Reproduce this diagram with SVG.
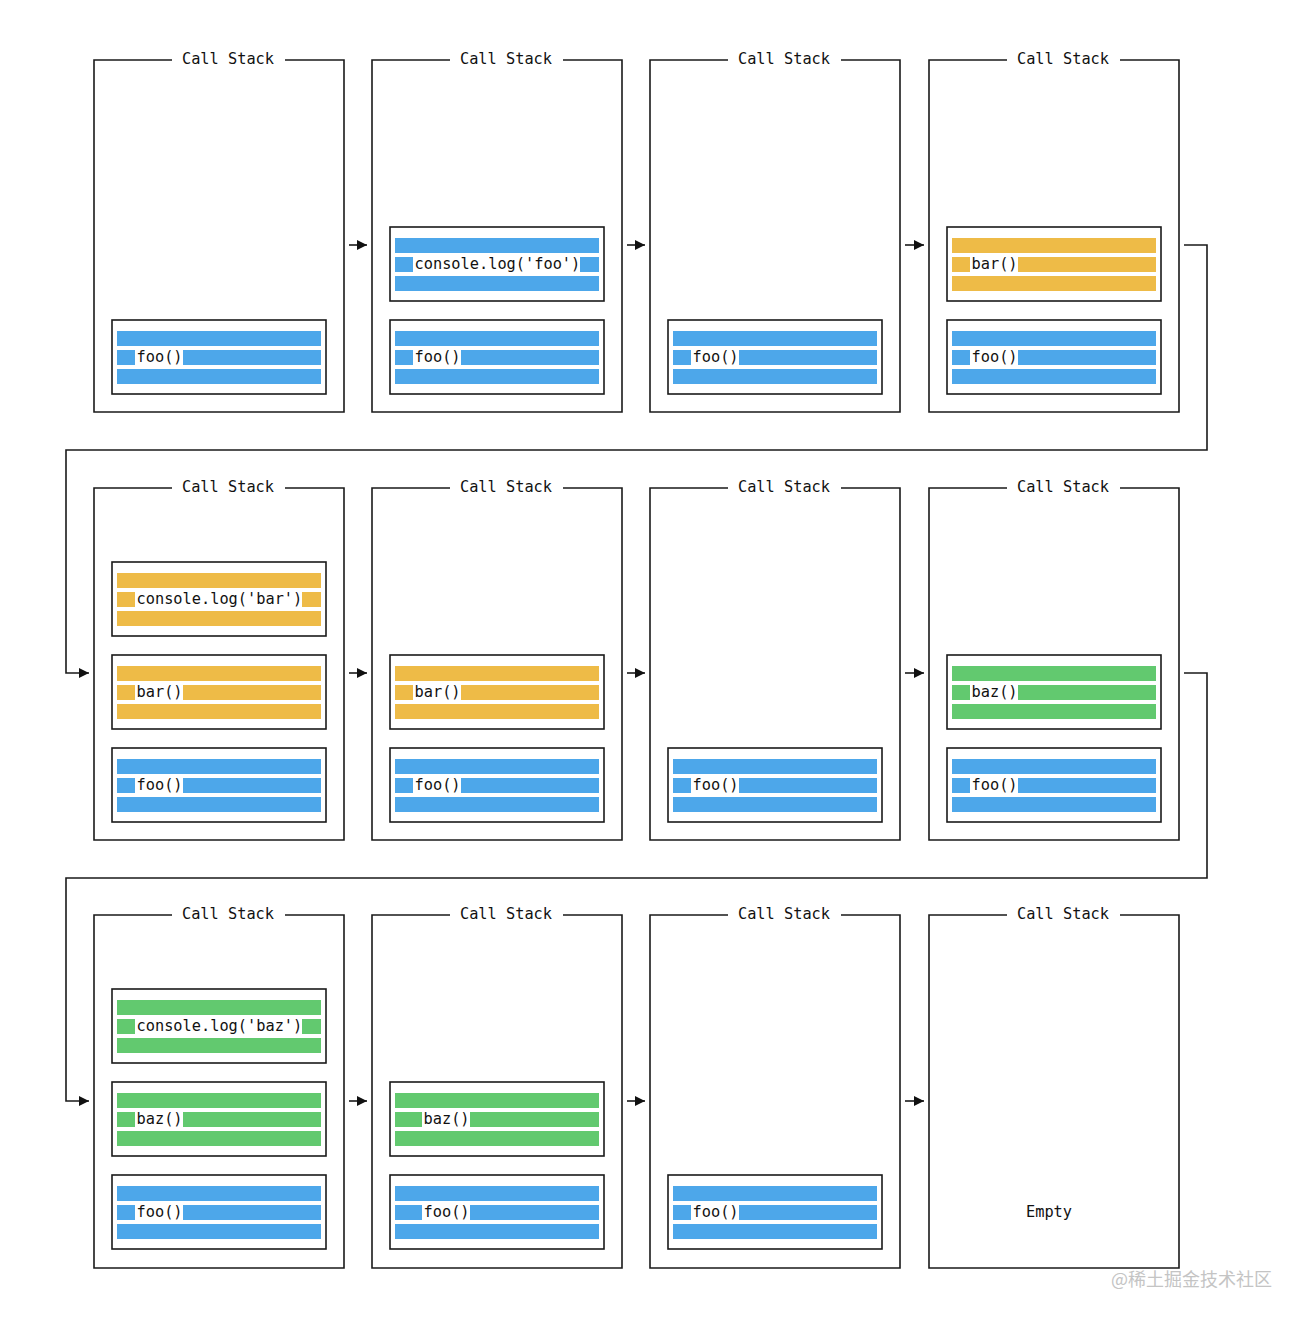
<svg xmlns="http://www.w3.org/2000/svg" width="1304" height="1322" viewBox="0 0 1304 1322">
<defs>
<style>
.pn{fill:none;stroke:#1a1a1a;stroke-width:1.6}
.fr{fill:#fff;stroke:#1a1a1a;stroke-width:1.6}
.b{fill:#4da7ea}
.y{fill:#eebb47}
.g{fill:#62c96f}
.w{fill:#fff}
.t{font-family:"DejaVu Sans Mono","Liberation Mono",monospace;font-size:15.3px;fill:#111}
.ttl{font-family:"DejaVu Sans Mono","Liberation Mono",monospace;font-size:15.3px;fill:#111;text-anchor:middle}
.cn{fill:none;stroke:#1a1a1a;stroke-width:1.6}
.wm{font-family:"Noto Sans CJK SC","Noto Sans",sans-serif;font-size:18px;fill:#c4c4c4}
</style>
<marker id="ah" markerWidth="12" markerHeight="12" refX="10" refY="6" orient="auto" markerUnits="userSpaceOnUse">
<path d="M0,1 L10,6 L0,11 Z" fill="#111"/>
</marker>
<g id="fb"><rect class="fr" width="214" height="74"/><rect class="b" x="5" y="11" width="204" height="15"/><rect class="b" x="5" y="30" width="204" height="15"/><rect class="b" x="5" y="49" width="204" height="15"/></g>
<g id="fy"><rect class="fr" width="214" height="74"/><rect class="y" x="5" y="11" width="204" height="15"/><rect class="y" x="5" y="30" width="204" height="15"/><rect class="y" x="5" y="49" width="204" height="15"/></g>
<g id="fg"><rect class="fr" width="214" height="74"/><rect class="g" x="5" y="11" width="204" height="15"/><rect class="g" x="5" y="30" width="204" height="15"/><rect class="g" x="5" y="49" width="204" height="15"/></g>
</defs>
<rect width="1304" height="1322" fill="#fff"/>

<!-- Row 1 -->
<g id="r1p1">
<path class="pn" d="M172,60 H94 V412 H344 V60 H285"/><text class="ttl" x="228" y="64">Call Stack</text>
<g transform="translate(112,320)"><use href="#fb"/><rect class="w" x="23" y="30" width="48" height="15"/><text class="t" x="24.5" y="41.5">foo()</text></g>
</g>
<g id="r1p2">
<path class="pn" d="M450,60 H372 V412 H622 V60 H563"/><text class="ttl" x="506" y="64">Call Stack</text>
<g transform="translate(390,227)"><use href="#fb"/><rect class="w" x="23" y="30" width="167" height="15"/><text class="t" x="24.5" y="41.5">console.log('foo')</text></g>
<g transform="translate(390,320)"><use href="#fb"/><rect class="w" x="23" y="30" width="48" height="15"/><text class="t" x="24.5" y="41.5">foo()</text></g>
</g>
<g id="r1p3">
<path class="pn" d="M728,60 H650 V412 H900 V60 H841"/><text class="ttl" x="784" y="64">Call Stack</text>
<g transform="translate(668,320)"><use href="#fb"/><rect class="w" x="23" y="30" width="48" height="15"/><text class="t" x="24.5" y="41.5">foo()</text></g>
</g>
<g id="r1p4">
<path class="pn" d="M1007,60 H929 V412 H1179 V60 H1120"/><text class="ttl" x="1063" y="64">Call Stack</text>
<g transform="translate(947,227)"><use href="#fy"/><rect class="w" x="23" y="30" width="48" height="15"/><text class="t" x="24.5" y="41.5">bar()</text></g>
<g transform="translate(947,320)"><use href="#fb"/><rect class="w" x="23" y="30" width="48" height="15"/><text class="t" x="24.5" y="41.5">foo()</text></g>
</g>

<!-- Row 2 -->
<g id="r2p1">
<path class="pn" d="M172,488 H94 V840 H344 V488 H285"/><text class="ttl" x="228" y="492">Call Stack</text>
<g transform="translate(112,562)"><use href="#fy"/><rect class="w" x="23" y="30" width="167" height="15"/><text class="t" x="24.5" y="41.5">console.log('bar')</text></g>
<g transform="translate(112,655)"><use href="#fy"/><rect class="w" x="23" y="30" width="48" height="15"/><text class="t" x="24.5" y="41.5">bar()</text></g>
<g transform="translate(112,748)"><use href="#fb"/><rect class="w" x="23" y="30" width="48" height="15"/><text class="t" x="24.5" y="41.5">foo()</text></g>
</g>
<g id="r2p2">
<path class="pn" d="M450,488 H372 V840 H622 V488 H563"/><text class="ttl" x="506" y="492">Call Stack</text>
<g transform="translate(390,655)"><use href="#fy"/><rect class="w" x="23" y="30" width="48" height="15"/><text class="t" x="24.5" y="41.5">bar()</text></g>
<g transform="translate(390,748)"><use href="#fb"/><rect class="w" x="23" y="30" width="48" height="15"/><text class="t" x="24.5" y="41.5">foo()</text></g>
</g>
<g id="r2p3">
<path class="pn" d="M728,488 H650 V840 H900 V488 H841"/><text class="ttl" x="784" y="492">Call Stack</text>
<g transform="translate(668,748)"><use href="#fb"/><rect class="w" x="23" y="30" width="48" height="15"/><text class="t" x="24.5" y="41.5">foo()</text></g>
</g>
<g id="r2p4">
<path class="pn" d="M1007,488 H929 V840 H1179 V488 H1120"/><text class="ttl" x="1063" y="492">Call Stack</text>
<g transform="translate(947,655)"><use href="#fg"/><rect class="w" x="23" y="30" width="48" height="15"/><text class="t" x="24.5" y="41.5">baz()</text></g>
<g transform="translate(947,748)"><use href="#fb"/><rect class="w" x="23" y="30" width="48" height="15"/><text class="t" x="24.5" y="41.5">foo()</text></g>
</g>

<!-- Row 3 -->
<g id="r3p1">
<path class="pn" d="M172,915 H94 V1268 H344 V915 H285"/><text class="ttl" x="228" y="919">Call Stack</text>
<g transform="translate(112,989)"><use href="#fg"/><rect class="w" x="23" y="30" width="167" height="15"/><text class="t" x="24.5" y="41.5">console.log('baz')</text></g>
<g transform="translate(112,1082)"><use href="#fg"/><rect class="w" x="23" y="30" width="48" height="15"/><text class="t" x="24.5" y="41.5">baz()</text></g>
<g transform="translate(112,1175)"><use href="#fb"/><rect class="w" x="23" y="30" width="48" height="15"/><text class="t" x="24.5" y="41.5">foo()</text></g>
</g>
<g id="r3p2">
<path class="pn" d="M450,915 H372 V1268 H622 V915 H563"/><text class="ttl" x="506" y="919">Call Stack</text>
<g transform="translate(390,1082)"><use href="#fg"/><rect class="w" x="32" y="30" width="48" height="15"/><text class="t" x="33.5" y="41.5">baz()</text></g>
<g transform="translate(390,1175)"><use href="#fb"/><rect class="w" x="32" y="30" width="48" height="15"/><text class="t" x="33.5" y="41.5">foo()</text></g>
</g>
<g id="r3p3">
<path class="pn" d="M728,915 H650 V1268 H900 V915 H841"/><text class="ttl" x="784" y="919">Call Stack</text>
<g transform="translate(668,1175)"><use href="#fb"/><rect class="w" x="23" y="30" width="48" height="15"/><text class="t" x="24.5" y="41.5">foo()</text></g>
</g>
<g id="r3p4">
<path class="pn" d="M1007,915 H929 V1268 H1179 V915 H1120"/><text class="ttl" x="1063" y="919">Call Stack</text>
<text class="ttl" x="1049" y="1217">Empty</text>
</g>

<g id="connectors">
<path class="cn" d="M349,245 H367" marker-end="url(#ah)"/>
<path class="cn" d="M627,245 H645" marker-end="url(#ah)"/>
<path class="cn" d="M905,245 H924" marker-end="url(#ah)"/>
<path class="cn" d="M1184,245 H1207 V450 H66 V673 H89" marker-end="url(#ah)"/>
<path class="cn" d="M349,673 H367" marker-end="url(#ah)"/>
<path class="cn" d="M627,673 H645" marker-end="url(#ah)"/>
<path class="cn" d="M905,673 H924" marker-end="url(#ah)"/>
<path class="cn" d="M1184,673 H1207 V878 H66 V1101 H89" marker-end="url(#ah)"/>
<path class="cn" d="M349,1101 H367" marker-end="url(#ah)"/>
<path class="cn" d="M627,1101 H645" marker-end="url(#ah)"/>
<path class="cn" d="M905,1101 H924" marker-end="url(#ah)"/>
</g>
<text class="wm" x="1111" y="1286">@稀土掘金技术社区</text>
</svg>
